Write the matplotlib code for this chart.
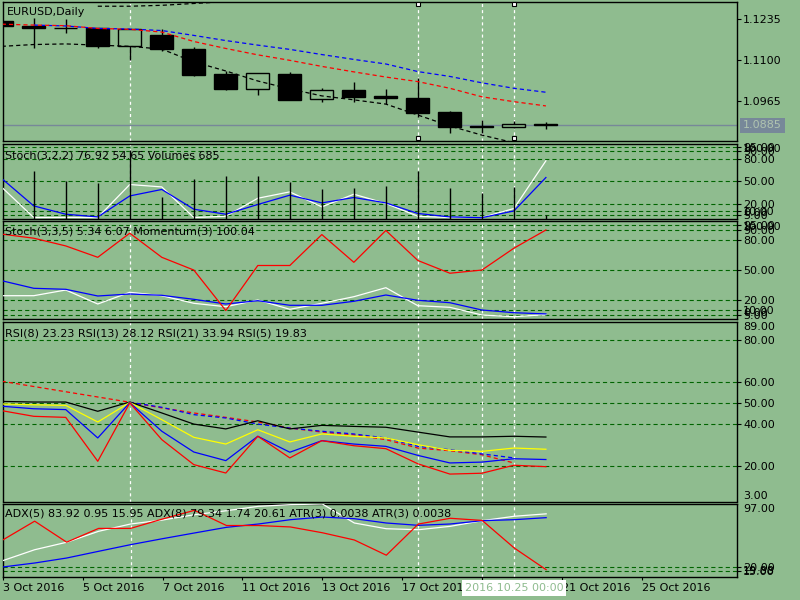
import matplotlib
matplotlib.use('Agg')
import matplotlib.pyplot as plt
import numpy as np

plt.rcParams['font.family'] = ['DejaVu Sans']
plt.rcParams['font.size'] = 8
plt.rcParams['lines.scale_dashes'] = False

BG = '#8fbc8f'
GRID = '#006400'
nan = np.nan

# ---- data (daily EURUSD, 3 Oct .. 26 Oct 2016) ----
bars = np.arange(18)
opens = [1.1228, 1.1213, 1.1207, 1.1204, 1.1147, 1.1182, 1.1136, 1.1054, 1.1006,
         1.1054, 1.0971, 1.1001, 1.0981, 1.0974, 1.0929, 1.0882, 1.0881, 1.0890]
highs = [1.1230, 1.1237, 1.1235, 1.1205, 1.1202, 1.1201, 1.1143, 1.1065, 1.1057,
         1.1061, 1.1007, 1.1028, 1.1005, 1.1042, 1.0932, 1.0903, 1.0900, 1.0897]
lows = [1.1211, 1.1139, 1.1188, 1.1139, 1.1100, 1.1131, 1.1047, 1.1001, 1.0986,
        1.0969, 1.0963, 1.0963, 1.0954, 1.0914, 1.0859, 1.0859, 1.0875, 1.0873]
closes = [1.1213, 1.1204, 1.1206, 1.1147, 1.1201, 1.1137, 1.1051, 1.1006, 1.1056,
          1.0970, 1.1000, 1.0979, 1.0976, 1.0927, 1.0881, 1.0881, 1.0890, 1.0885]
ma_blue = [nan, 1.1215, 1.1212, 1.1204, 1.1202, 1.1197, 1.1181, 1.1164, 1.1149,
           1.1135, 1.1118, 1.1102, 1.1087, 1.1062, 1.1046, 1.1025, 1.1007, 1.0994]
ma_red = [1.1218, 1.1215, 1.1213, 1.1204, 1.1201, 1.1192, 1.1161, 1.1138, 1.1117,
          1.1099, 1.1079, 1.1061, 1.1044, 1.1029, 1.1007, 1.0979, 1.0963, 1.0949]
bb_upper = [nan, nan, nan, 1.1277, 1.1277, 1.1280, 1.1286, 1.1292, nan,
            nan, nan, nan, nan, nan, nan, nan, nan, nan]
bb_lower = [1.1145, 1.1151, 1.1153, 1.1149, 1.1145, 1.1136, 1.1094, 1.1064, 1.1031,
            1.1005, 1.0982, 1.0969, 1.0955, 1.0919, 1.0883, 1.0853, 1.0828, nan]
last_price = 1.0885
price_ticks = [1.1235, 1.1100, 1.0965]

volumes = [nan, 9800, 7750, 7400, 14200, 4500, 8200, 8850, 8850,
           7600, 6100, 6350, 6700, 9850, 6350, 5300, 6500, 685]
stoch1_main = [41.7, 1.3, 1.5, 1.3, 45.3, 42.1, 1.3, 3.0, 27.0,
               35.5, 15.5, 32.4, 20.0, 3.0, 1.3, 1.3, 13.3, 76.92]
stoch1_signal = [53.3, 16.8, 5.7, 2.1, 30.1, 38.7, 12.4, 5.7, 18.7,
                 31.1, 20.8, 28.0, 20.8, 6.7, 2.1, 1.1, 10.1, 54.65]

stoch2_main = [24.3, 24.3, 30.0, 16.0, 27.7, 24.3, 16.7, 13.3, 20.0,
               10.7, 16.7, 23.3, 32.3, 14.3, 12.7, 5.0, 3.3, 5.34]
stoch2_signal = [39.3, 31.7, 30.7, 24.0, 26.0, 24.7, 20.7, 16.0, 19.3,
                 14.7, 14.7, 18.7, 25.0, 19.7, 17.3, 10.0, 7.3, 6.07]
momentum = [99.95, 99.86, 99.69, 99.44, 99.97, 99.44, 99.16, 98.27, 99.26,
            99.26, 99.94, 99.33, 100.03, 99.37, 99.09, 99.16, 99.64, 100.04]

rsi21 = [50.9, 50.6, 50.6, 46.2, 50.6, 45.4, 40.1, 37.8, 41.7,
         37.8, 39.5, 39.0, 38.6, 36.3, 34.0, 34.0, 34.3, 33.94]
rsi13 = [49.7, 49.3, 49.0, 41.1, 50.4, 42.2, 33.8, 30.6, 37.4,
         31.6, 35.4, 34.3, 33.5, 30.3, 27.6, 27.1, 28.7, 28.12]
rsi8 = [48.6, 47.4, 47.0, 33.5, 50.3, 36.7, 26.8, 22.7, 34.3,
        26.7, 32.2, 30.6, 29.5, 25.2, 21.6, 22.0, 23.6, 23.23]
rsi5 = [46.5, 43.8, 43.3, 22.4, 50.2, 32.7, 20.8, 16.8, 34.3,
        24.0, 32.2, 29.8, 28.4, 21.2, 16.3, 16.7, 20.5, 19.83]
rsi_ma_red = [60.5, 58.0, 55.5, 53.0, 50.5, 47.8, 45.4, 43.3, 41.1,
              38.2, 36.3, 35.0, 32.7, 28.7, 27.4, 25.5, 21.6, nan]
rsi_ma_blue = [nan, nan, nan, nan, 50.5, 48.1, 44.6, 43.0, 40.1,
               38.2, 36.7, 35.4, 33.5, 29.5, 27.9, 25.9, 24.0, nan]

adx5 = [27.5, 40.7, 49.7, 62.9, 71.7, 76.5, 82.9, 87.7, 93.0,
        95.0, 95.8, 72.9, 66.0, 64.8, 68.9, 75.7, 81.0, 83.92]
adx8 = [19.9, 24.7, 30.7, 38.8, 46.8, 54.0, 60.9, 67.7, 71.7,
        76.9, 80.1, 78.1, 72.9, 70.1, 71.7, 75.7, 76.9, 79.34]
atr3 = [0.0079, 0.0105, 0.0076, 0.0095, 0.0095, 0.0108, 0.0120, 0.0099, 0.0099,
        0.0097, 0.0089, 0.0079, 0.0058, 0.0101, 0.0109, 0.0106, 0.0068, 0.0038]

date_ticks = [0, 2.5, 5, 7.5, 10, 12.5, 15, 17.5, 20]
date_labels = ['3 Oct 2016', '5 Oct 2016', '7 Oct 2016', '11 Oct 2016', '13 Oct 2016',
               '17 Oct 2016', '19 Oct 2016', '21 Oct 2016', '25 Oct 2016']
marked_bars = [4, 13, 15, 16]

stoch_levels = [95, 90, 80, 50, 20, 10, 5]
rsi_levels = [80, 60, 50, 40, 20]
adx_levels = [20, 15]

DASH = (0, (3, 2.2))

fig = plt.figure(figsize=(8, 6), dpi=100, facecolor=BG)


def panel(top, bottom):
    # top/bottom in pixels from the top of the 800x600 picture
    ax = fig.add_axes([2.7 / 800, 1 - bottom / 600, (737 - 2.7) / 800, (bottom - top) / 600])
    ax.set_facecolor(BG)
    ax.set_xlim(0.03, 22.97)
    ax.set_xticks([])
    for s in ax.spines.values():
        s.set_color('black')
        s.set_linewidth(1)
    for b in marked_bars:
        ax.axvline(b, color='white', lw=0.9, ls=(0, (2.2, 2.2)), zorder=1.5)
    return ax


def right_axis(ax):
    ax.yaxis.tick_right()
    ax.tick_params(axis='y', length=3, width=0.8, pad=1.3, labelsize=8, colors='black')


def twin(ax, lo, hi):
    t = ax.twinx()
    t.set_ylim(lo, hi)
    t.set_axis_off()
    right_axis(ax)   # twinx moves the ticks of ax to the left
    return t


def levels(ax, lv):
    for v in lv:
        ax.axhline(v, color=GRID, lw=0.8, ls=DASH, zorder=1)
    ax.set_yticks(lv)
    ax.set_yticklabels([f'{v:.2f}' for v in lv])


def edge_label(ax, text, where):
    if where == 'top':
        ax.annotate(text, xy=(1, 1), xycoords='axes fraction', xytext=(4.3, -0.5),
                    textcoords='offset points', ha='left', va='top', fontsize=8)
    else:
        ax.annotate(text, xy=(1, 0), xycoords='axes fraction', xytext=(4.3, 0.5),
                    textcoords='offset points', ha='left', va='bottom', fontsize=8)


# ---- main price panel ----
ax1 = panel(2, 141)
right_axis(ax1)
ax1.set_ylim(1.08336, 1.12909)
ax1.set_yticks(price_ticks)
ax1.set_yticklabels([f'{p:.4f}' for p in price_ticks])
ax1.axhline(last_price, color='#778899', lw=1, zorder=1)
for i in bars:
    o, h, l, c = opens[i], highs[i], lows[i], closes[i]
    ax1.vlines(i, l, h, color='black', lw=1, zorder=2)
    face = BG if c > o else 'black'
    ax1.bar(i, max(abs(c - o), 0.00003), bottom=min(o, c), width=0.72,
            color=face, edgecolor='black', linewidth=1, zorder=3)
ax1.plot(bars, ma_blue, color='blue', lw=0.9, ls=DASH, zorder=4)
ax1.plot(bars, ma_red, color='red', lw=0.9, ls=DASH, zorder=4)
ax1.plot(bars, bb_upper, color='black', lw=0.9, ls=DASH, zorder=4)
ax1.plot(bars, bb_lower, color='black', lw=0.9, ls=DASH, zorder=4)
for b in [13, 16]:
    ax1.plot([b, b], [0.985, 0.022], transform=ax1.get_xaxis_transform(), ls='none',
             marker='s', ms=3.5, mfc='white', mec='black', mew=0.8, zorder=6, clip_on=False)
ax1.annotate(f'{last_price:.4f}', xy=(1, last_price), xycoords=('axes fraction', 'data'),
             xytext=(4.3, 0), textcoords='offset points', ha='left', va='center',
             fontsize=8, color='#b0c4b0',
             bbox=dict(boxstyle='square,pad=0.25', facecolor='#778899', edgecolor='none'))

# ---- Stoch(3,2,2) + Volumes ----
ax2 = panel(143.5, 218.5)
ax2v = twin(ax2, 0, 15600)
ax2.set_ylim(0, 100)
levels(ax2, stoch_levels)
edge_label(ax2, '100.00', 'top')
edge_label(ax2, '0.00', 'bottom')
ax2.plot(bars, stoch1_main, color='white', lw=0.9, zorder=3)
ax2.plot(bars, stoch1_signal, color='blue', lw=0.9, zorder=3)
ax2v.vlines(bars, 0, volumes, color='black', lw=1)

# ---- Stoch(3,3,5) + Momentum(3) ----
ax3 = panel(221, 318.5)
ax3m = twin(ax3, 98.095, 100.238)
ax3.set_ylim(1.5, 99)
levels(ax3, stoch_levels)
edge_label(ax3, '100.00', 'top')
edge_label(ax3, '0.00', 'bottom')
ax3.plot(bars, stoch2_main, color='white', lw=0.9, zorder=3)
ax3.plot(bars, stoch2_signal, color='blue', lw=0.9, zorder=3)
ax3m.plot(bars, momentum, color='red', lw=0.9)

# ---- RSI ----
ax4 = panel(321.5, 501.5)
right_axis(ax4)
ax4.set_ylim(3.24, 88.95)
levels(ax4, rsi_levels)
edge_label(ax4, '89.00', 'top')
edge_label(ax4, '3.00', 'bottom')
ax4.plot(bars, rsi_ma_red, color='red', lw=0.9, ls=DASH, zorder=3)
ax4.plot(bars, rsi_ma_blue, color='blue', lw=0.9, ls=DASH, zorder=3)
ax4.plot(bars, rsi21, color='black', lw=0.9, zorder=3)
ax4.plot(bars, rsi13, color='yellow', lw=0.9, zorder=3)
ax4.plot(bars, rsi8, color='blue', lw=0.9, zorder=3)
ax4.plot(bars, rsi5, color='red', lw=0.9, zorder=3)

# ---- ADX + ATR ----
ax5 = panel(503.5, 577)
ax5a = twin(ax5, 0.00279, 0.01294)
ax5.set_ylim(7.84, 96.4)
levels(ax5, adx_levels)
edge_label(ax5, '97.00', 'top')
edge_label(ax5, '19.88', 'bottom')
ax5.plot(bars, adx5, color='white', lw=0.9, zorder=3)
ax5.plot(bars, adx8, color='blue', lw=0.9, zorder=3)
ax5a.plot(bars, atr3, color='red', lw=0.9)

ax5.set_xticks(date_ticks)
ax5.set_xticklabels(date_labels, ha='left')
ax5.tick_params(axis='x', length=2.5, width=0.8, pad=1.5, labelsize=8, colors='black')

# ---- texts on top ----
def ftext(x, y, s, **kw):
    fig.text(x / 800, 1 - y / 600, s, va='center', ha='left', fontsize=8, **kw)


ftext(7, 12, 'EURUSD,Daily')
ftext(5, 155, 'Stoch(3,2,2) 76.92 54.65 Volumes 685')
ftext(5, 231, 'Stoch(3,3,5) 5.34 6.07 Momentum(3) 100.04')
ftext(5, 333, 'RSI(8) 23.23 RSI(13) 28.12 RSI(21) 33.94 RSI(5) 19.83')
ftext(5, 514, 'ADX(5) 83.92 0.95 15.95 ADX(8) 79.34 1.74 20.61 ATR(3) 0.0038 ATR(3) 0.0038')
fig.text(514 / 800, 1 - 588 / 600, '2016.10.25 00:00', ha='center', va='center',
         fontsize=8, color=BG,
         bbox=dict(boxstyle='square,pad=0.25', facecolor='white', edgecolor='none'))

fig.savefig('out.png', dpi=100, facecolor=BG)
